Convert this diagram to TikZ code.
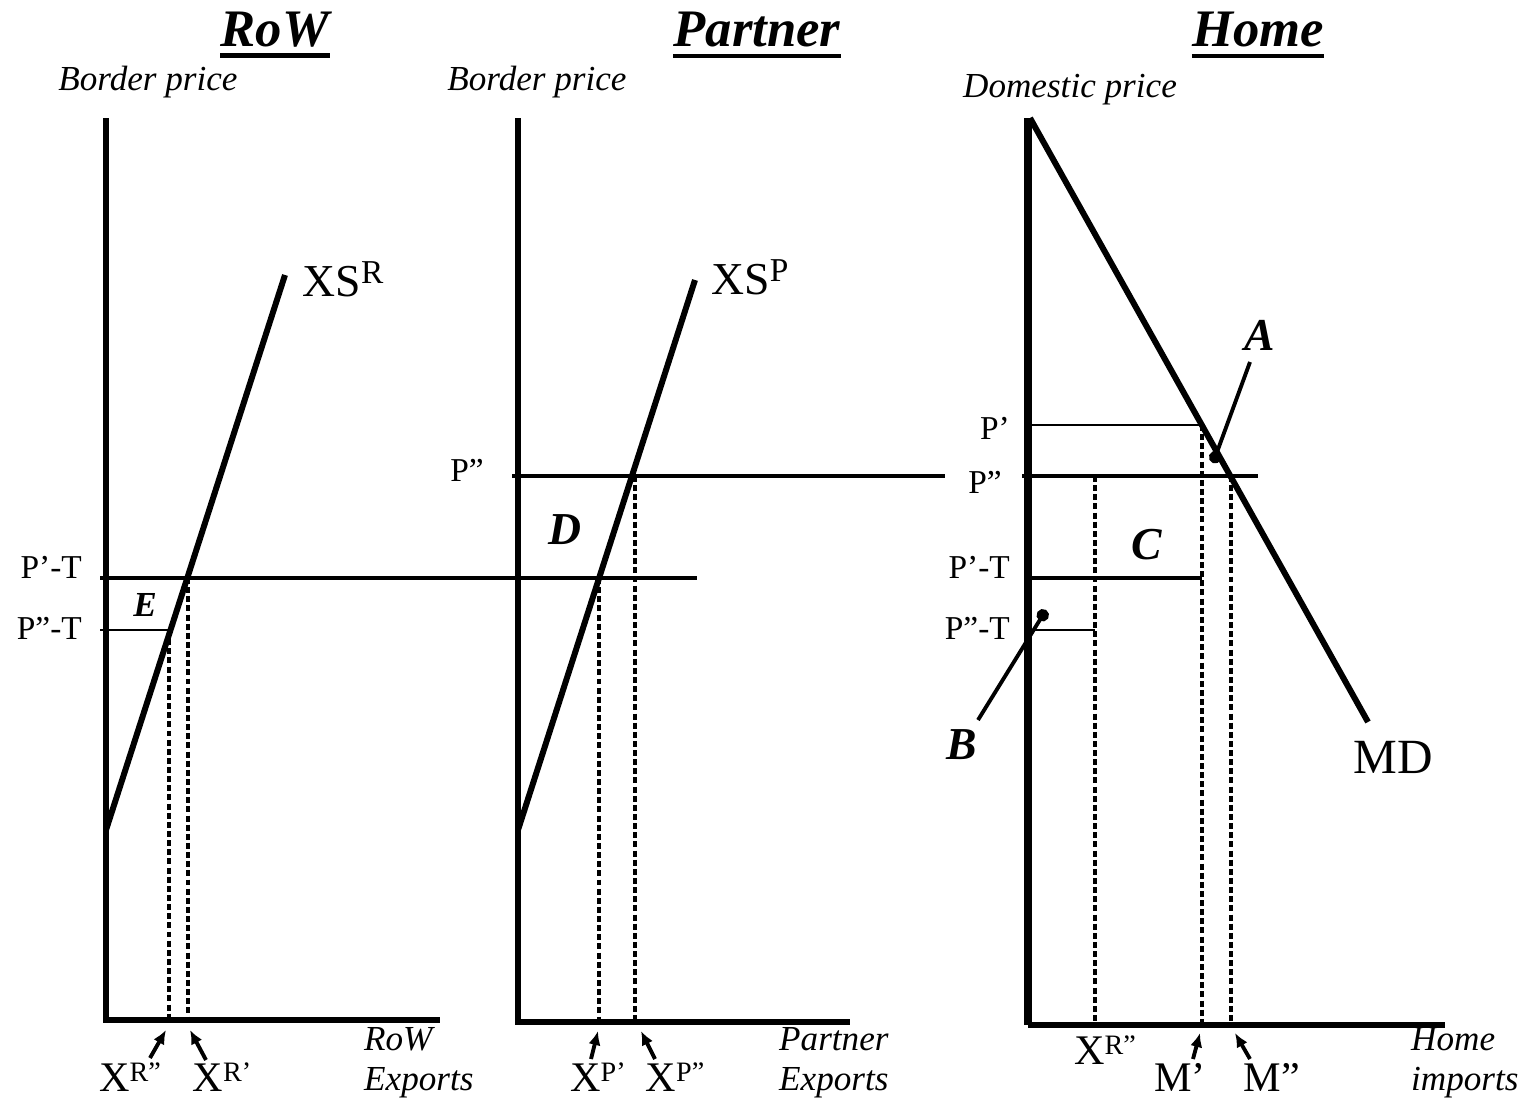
\documentclass[tikz,border=0pt]{standalone}
\usepackage{fontspec}
\setmainfont{Liberation Serif}
\usetikzlibrary{arrows.meta,calc,positioning}
\newcommand{\supx}[1]{{\fontsize{16}{16}\selectfont\raisebox{5.5pt}{#1}}}
\newcommand{\supxl}[1]{{\fontsize{19}{19}\selectfont\raisebox{7.5pt}{#1}}}

\begin{document}
\begin{tikzpicture}[
    x=0.02cm, y=-0.02cm,
    axis/.style={line width=3.6pt},
    curve/.style={line width=3.4pt},
    price/.style={line width=2.2pt},
    thinprice/.style={line width=1.1pt},
    guide/.style={line width=1.9pt, dash pattern=on 3.4pt off 1.8pt},
    rule/.style={line width=2.8pt},
    ttl/.style={inner sep=0pt, font=\fontsize{30}{32}\selectfont\bfseries\itshape},
    axlbl/.style={font=\fontsize{20}{22}\selectfont\itshape},
    qlbl/.style={anchor=west, align=left, font=\fontsize{20}{23}\selectfont\itshape},
    lvl/.style={anchor=east, font=\fontsize{19}{21}\selectfont},
    qty/.style={inner sep=0pt, font=\fontsize{24}{26}\selectfont},
    area/.style={font=\fontsize{26}{28}\selectfont\bfseries\itshape},
    tag/.style={-{Latex[length=8pt,width=7pt]}, line width=2.2pt},
    pin/.style={-{Circle[length=7pt]}, line width=2.2pt}
]
\useasboundingbox (0,0) rectangle (1522,1102);

% titles
\node[ttl] (trow)  at (275,30)  {RoW};
\node[ttl] (tpart) at (757,30)  {Partner};
\node[ttl] (thome) at (1258,30) {Home};
\foreach \t in {trow,tpart,thome}
  \draw[rule] ($(\t.base west)+(0,9)$) -- ($(\t.base east)+(0,9)$);

\node[axlbl] (yrow)  at (148,82)  {Border price};
\node[axlbl] (ypart) at (537,82)  {Border price};
\node[axlbl] (yhome) at (1070,90) {Domestic price};

% RoW
\coordinate (rtop) at (106,118);
\coordinate (rO)   at (106,1020);
\coordinate (rend) at (440,1020);
\draw[axis] (rtop) -- (rO) -- (rend);
\coordinate (xsr0) at (106,830);
\coordinate (xsr1) at (285,275);
\draw[curve] (xsr0) -- (xsr1);
\node[qty, font=\fontsize{26}{28}\selectfont] (xsr) at (343,279) {XS\supxl{R}};

% Partner
\coordinate (ptop) at (518,118);
\coordinate (pO)   at (518,1022);
\coordinate (pend) at (850,1022);
\draw[axis] (ptop) -- (pO) -- (pend);
\coordinate (xsp0) at (518,830);
\coordinate (xsp1) at (695,280);
\draw[curve] (xsp0) -- (xsp1);
\node[qty, font=\fontsize{26}{28}\selectfont] (xsp) at (750,277) {XS\supxl{P}};

% Home
\coordinate (htop) at (1028,118);
\coordinate (hO)   at (1028,1025);
\coordinate (hend) at (1445,1025);
\draw[line width=4.8pt] (htop) -- (hO);
\draw[axis] (hO) -- (hend);
\coordinate (md0) at (1030,118);
\coordinate (md1) at (1368,722);
\draw[curve] (md0) -- (md1);
\node[qty, font=\fontsize{28}{30}\selectfont] (md) at (1393,757) {MD};

% price levels
\draw[price] (100,578) -- (697,578);
\draw[thinprice] (100,630) -- (170,630);
\draw[price] (512,476) -- (945,476);
\draw[thinprice] (1030,425) -- (1202,425);
\draw[price] (1022,476) -- (1258,476);
\draw[price] (1028,578) -- (1202,578);
\draw[thinprice] (1028,630) -- (1095,630);

\node[lvl] (rpt)   at (88,567)   {P’-T};
\node[lvl] (rppt)  at (88,628)   {P”-T};
\node[lvl] (ppp)   at (490,470)  {P”};
\node[lvl] (hp)    at (1016,428) {P’};
\node[lvl] (hpp)   at (1008,482) {P”};
\node[lvl] (hpt)   at (1016,567) {P’-T};
\node[lvl] (hppt)  at (1016,628) {P”-T};

% quantities
\draw[guide] (169,630) -- (169,1020);
\draw[guide] (188,578) -- (188,1020);
\draw[guide] (599,578) -- (599,1022);
\draw[guide] (635,476) -- (635,1022);
\draw[guide] (1095,476) -- (1095,1025);
\draw[guide] (1202,425) -- (1202,1025);
\draw[guide] (1231,476) -- (1231,1025);

\node[qty, anchor=base] (xrpp) at (130,1091)  {X\supx{R”}};
\node[qty, anchor=base] (xrp)  at (222,1091)  {X\supx{R’}};
\node[qty, anchor=base] (xpp)  at (598,1091)  {X\supx{P’}};
\node[qty, anchor=base] (xppp) at (675,1091)  {X\supx{P”}};
\node[qty, anchor=base] (hxr)  at (1105,1064) {X\supx{R”}};
\node[qty, anchor=base] (mp)   at (1180,1091) {M’};
\node[qty, anchor=base] (mpp)  at (1272,1091) {M”};

\draw[tag] (150,1058) -- (166,1030);
\draw[tag] (206,1060) -- (190,1030);
\draw[tag] (591,1059) -- (598,1031);
\draw[tag] (655,1059) -- (641,1031);
\draw[tag] (1193,1059) -- (1200,1033);
\draw[tag] (1250,1059) -- (1235,1033);

\node[qlbl] (qrow)  at (358,1063)  {RoW\\Exports};
\node[qlbl] (qpart) at (773,1063)  {Partner\\Exports};
\node[qlbl] (qhome) at (1405,1063) {Home\\imports};

% areas
\node[area, font=\fontsize{20}{22}\selectfont\bfseries\itshape] (e) at (145,605) {E};
\node[area] (d) at (565,530)  {D};
\node[area] (c) at (1147,545) {C};
\node[area] (a) at (1260,335) {A};
\node[area] (b) at (962,745)  {B};
\coordinate (apt) at (1213,463);
\coordinate (bpt) at (1046,610);
\draw[pin] (1250,362) -- (apt);
\draw[pin] (978,720) -- (bpt);
\end{tikzpicture}
\end{document}
